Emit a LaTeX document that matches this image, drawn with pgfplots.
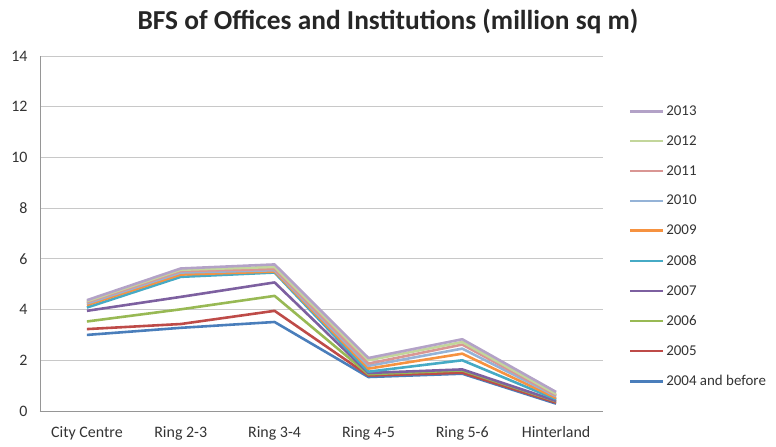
\documentclass[border=0pt]{standalone}
\usepackage{pgfplots}
\pgfplotsset{compat=1.18}
\usepackage{fontspec}
\setmainfont{Carlito}
\definecolor{c04}{HTML}{4A7EBB}
\definecolor{c05}{HTML}{BE4B48}
\definecolor{c06}{HTML}{98B954}
\definecolor{c07}{HTML}{7D60A0}
\definecolor{c08}{HTML}{46AAC5}
\definecolor{c09}{HTML}{F69240}
\definecolor{c10}{HTML}{95B3D7}
\definecolor{c11}{HTML}{D99694}
\definecolor{c12}{HTML}{C3D69B}
\definecolor{c13}{HTML}{B3A2C7}
\definecolor{gridc}{RGB}{200,200,200}
\definecolor{axc}{RGB}{150,150,150}
\begin{document}
\begin{tikzpicture}[x=1bp,y=1bp]
\useasboundingbox (-40,-36) rectangle (736,411);
\node[font=\fontsize{27.5}{32}\selectfont\bfseries, text=black!85] at (348,390) {BFS of Offices and Institutions (million sq m)};
\begin{axis}[
  at={(0,0)}, anchor=south west,
  scale only axis, width=563bp, height=355bp,
  xmin=-0.5, xmax=5.5, ymin=0, ymax=14,
  xtick={0,...,5},
  xticklabels={City Centre, Ring 2-3, Ring 3-4, Ring 4-5, Ring 5-6, Hinterland},
  ytick={0,2,...,14},
  ymajorgrids, grid style={gridc, line width=0.8pt},
  axis line style={axc, line width=0.8pt},
  axis x line*=bottom, axis y line*=left,
  x axis line style={-}, y axis line style={-},
  tick style={draw=none},
  tick label style={font=\fontsize{16}{19}\selectfont, text=black!80},
  /pgf/number format/assume math mode=true,
  xticklabel style={yshift=-12bp},
  yticklabel style={xshift=-9bp},
  every axis plot/.append style={line width=2.6pt, line join=round},
  reverse legend,
  legend style={at={(1.04,0.872)}, anchor=north west, draw=none, fill=none,
    font=\fontsize{15}{18}\selectfont, text=black!80, row sep=14.7bp,
    /tikz/every even column/.append style={column sep=0bp}},
  legend cell align=left,
  legend image code/.code={\draw[#1, line width=2.6pt] (0bp,0bp) -- (33bp,0bp);},
]
\addplot[c04] coordinates {(0,3.00) (1,3.28) (2,3.51) (3,1.34) (4,1.47) (5,0.29)};
\addlegendentry{2004 and before}
\addplot[c05] coordinates {(0,3.23) (1,3.43) (2,3.95) (3,1.40) (4,1.51) (5,0.33)};
\addlegendentry{2005}
\addplot[c06] coordinates {(0,3.53) (1,4.01) (2,4.54) (3,1.45) (4,1.60) (5,0.38)};
\addlegendentry{2006}
\addplot[c07] coordinates {(0,3.95) (1,4.50) (2,5.07) (3,1.50) (4,1.64) (5,0.40)};
\addlegendentry{2007}
\addplot[c08] coordinates {(0,4.08) (1,5.29) (2,5.46) (3,1.55) (4,2.00) (5,0.46)};
\addlegendentry{2008}
\addplot[c09] coordinates {(0,4.18) (1,5.38) (2,5.50) (3,1.67) (4,2.26) (5,0.51)};
\addlegendentry{2009}
\addplot[c10] coordinates {(0,4.24) (1,5.46) (2,5.55) (3,1.78) (4,2.46) (5,0.58)};
\addlegendentry{2010}
\addplot[c11] coordinates {(0,4.29) (1,5.52) (2,5.60) (3,1.87) (4,2.62) (5,0.62)};
\addlegendentry{2011}
\addplot[c12] coordinates {(0,4.33) (1,5.57) (2,5.68) (3,2.00) (4,2.72) (5,0.67)};
\addlegendentry{2012}
\addplot[c13] coordinates {(0,4.37) (1,5.62) (2,5.78) (3,2.09) (4,2.83) (5,0.75)};
\addlegendentry{2013}
\end{axis}
\end{tikzpicture}
\end{document}
